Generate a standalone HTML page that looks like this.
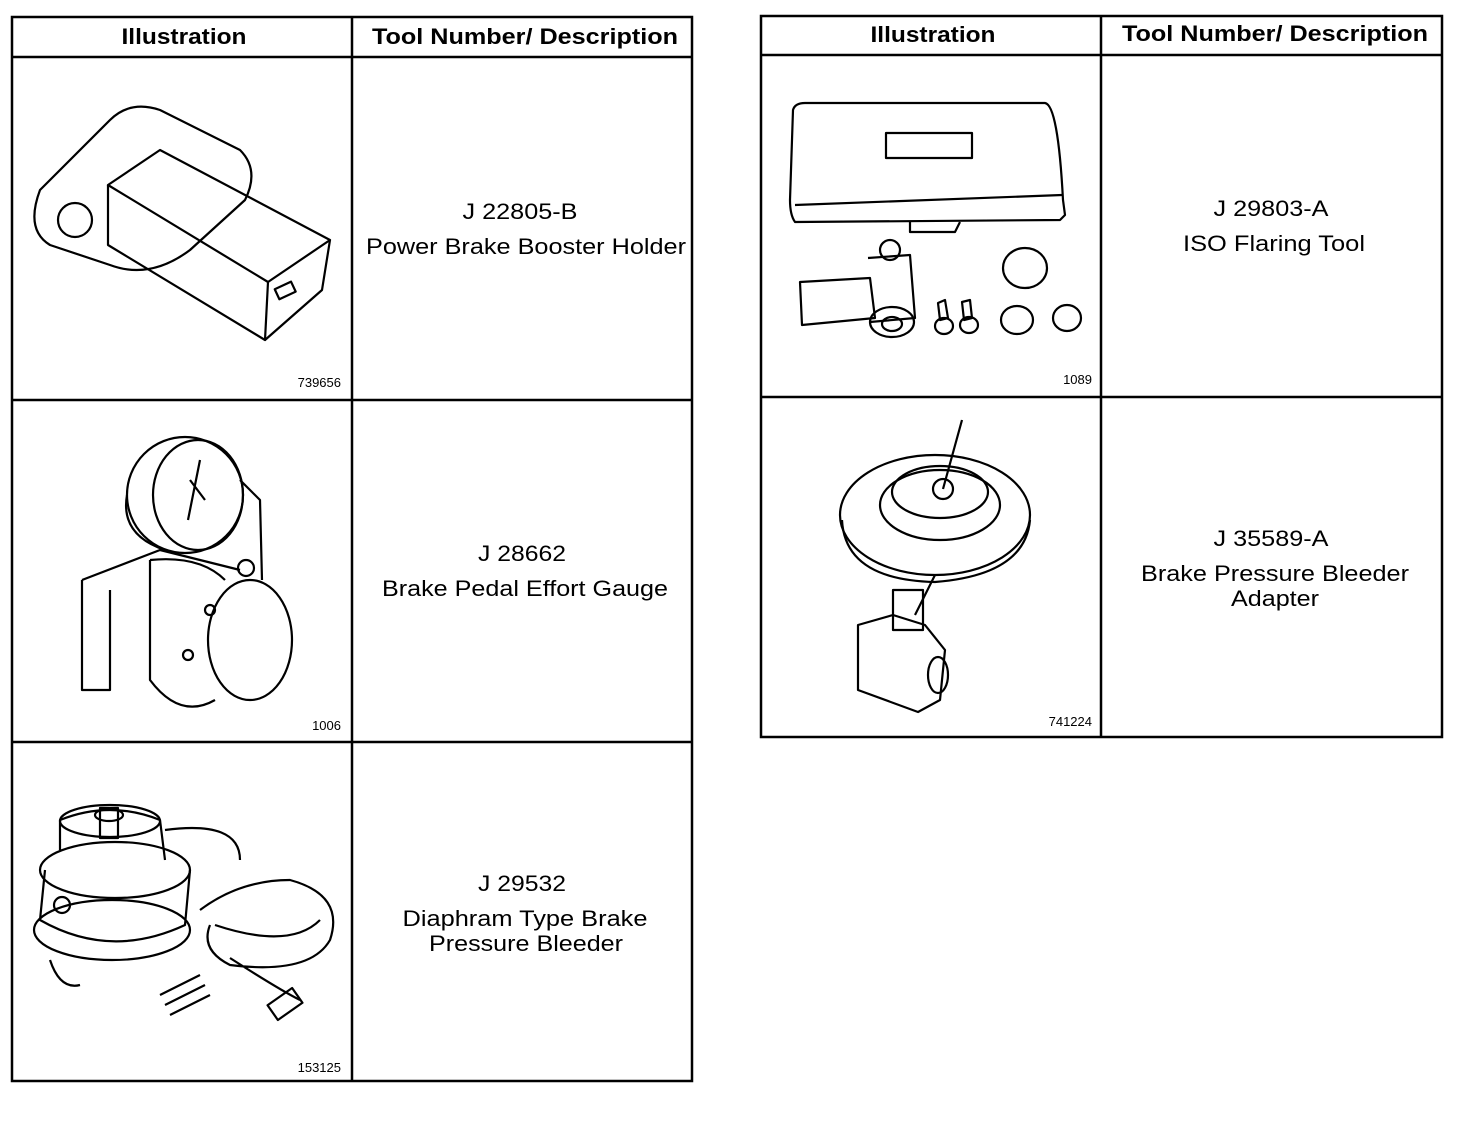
<!DOCTYPE html>
<html><head><meta charset="utf-8"><style>
html,body{margin:0;padding:0;background:#fff;}
svg{display:block;}
text{font-family:"Liberation Sans",Arial,sans-serif;fill:#000;}
.h{font-weight:bold;font-size:22px;}
.d{font-size:22px;}
.n{font-size:13px;}
</style></head><body>
<svg width="1472" height="1122" viewBox="0 0 1472 1122" xmlns="http://www.w3.org/2000/svg">
<g fill="none" stroke="#000" stroke-width="2.5">
<rect x="12" y="17" width="680" height="1064"/>
<line x1="352" y1="17" x2="352" y2="1081"/>
<line x1="12" y1="57" x2="692" y2="57"/>
<line x1="12" y1="400" x2="692" y2="400"/>
<line x1="12" y1="742" x2="692" y2="742"/>
<rect x="761" y="16" width="681" height="721"/>
<line x1="1101" y1="16" x2="1101" y2="737"/>
<line x1="761" y1="55" x2="1442" y2="55"/>
<line x1="761" y1="397" x2="1442" y2="397"/>
</g>
<g lengthAdjust="spacingAndGlyphs">
<text class="h" x="184" y="44" text-anchor="middle" textLength="125" lengthAdjust="spacingAndGlyphs">Illustration</text>
<text class="h" x="525" y="44" text-anchor="middle" textLength="306" lengthAdjust="spacingAndGlyphs">Tool Number/ Description</text>
<text class="h" x="933" y="42" text-anchor="middle" textLength="125" lengthAdjust="spacingAndGlyphs">Illustration</text>
<text class="h" x="1275" y="41" text-anchor="middle" textLength="306" lengthAdjust="spacingAndGlyphs">Tool Number/ Description</text>

<text class="d" x="520" y="219" text-anchor="middle" textLength="115" lengthAdjust="spacingAndGlyphs">J 22805-B</text>
<text class="d" x="526" y="254" text-anchor="middle" textLength="320" lengthAdjust="spacingAndGlyphs">Power Brake Booster Holder</text>
<text class="d" x="522" y="561" text-anchor="middle" textLength="88" lengthAdjust="spacingAndGlyphs">J 28662</text>
<text class="d" x="525" y="596" text-anchor="middle" textLength="286" lengthAdjust="spacingAndGlyphs">Brake Pedal Effort Gauge</text>
<text class="d" x="522" y="891" text-anchor="middle" textLength="88" lengthAdjust="spacingAndGlyphs">J 29532</text>
<text class="d" x="525" y="926" text-anchor="middle" textLength="245" lengthAdjust="spacingAndGlyphs">Diaphram Type Brake</text>
<text class="d" x="526" y="951" text-anchor="middle" textLength="194" lengthAdjust="spacingAndGlyphs">Pressure Bleeder</text>
<text class="d" x="1271" y="216" text-anchor="middle" textLength="115" lengthAdjust="spacingAndGlyphs">J 29803-A</text>
<text class="d" x="1274" y="251" text-anchor="middle" textLength="182" lengthAdjust="spacingAndGlyphs">ISO Flaring Tool</text>
<text class="d" x="1271" y="546" text-anchor="middle" textLength="115" lengthAdjust="spacingAndGlyphs">J 35589-A</text>
<text class="d" x="1275" y="581" text-anchor="middle" textLength="268" lengthAdjust="spacingAndGlyphs">Brake Pressure Bleeder</text>
<text class="d" x="1275" y="606" text-anchor="middle" textLength="88" lengthAdjust="spacingAndGlyphs">Adapter</text>
</g>
<text class="n" x="341" y="387" text-anchor="end">739656</text>
<text class="n" x="341" y="730" text-anchor="end">1006</text>
<text class="n" x="341" y="1072" text-anchor="end">153125</text>
<text class="n" x="1092" y="384" text-anchor="end">1089</text>
<text class="n" x="1092" y="726" text-anchor="end">741224</text>

<g fill="none" stroke="#000" stroke-width="2.2" stroke-linejoin="round">
<path d="M40 190 L110 120 Q130 100 160 110 L240 150 Q260 170 245 200 L190 250 Q150 280 110 265 L50 245 Q25 230 40 190Z"/>
<circle cx="75" cy="220" r="17"/>
<path d="M108 185 L160 150 L330 240 L268 282Z"/>
<path d="M108 185 L108 245 L265 340 L268 282"/>
<path d="M330 240 L322 290 L265 340"/>
<rect x="276" y="285" width="18" height="11" transform="rotate(-25 285 290)"/>
<ellipse cx="185" cy="495" rx="58" ry="58"/>
<ellipse cx="198" cy="495" rx="45" ry="55"/>
<path d="M127 495 Q120 535 165 550"/>
<path d="M200 460 L188 520 M190 480 L205 500"/>
<path d="M240 480 L260 500 L262 580 M82 580 L160 550 L240 570"/>
<path d="M82 580 L82 690 L110 690 L110 590"/>
<path d="M150 560 L150 680 Q180 720 215 700"/>
<ellipse cx="250" cy="640" rx="42" ry="60"/>
<path d="M150 560 Q200 555 225 580"/>
<circle cx="210" cy="610" r="5"/><circle cx="188" cy="655" r="5"/>
<circle cx="246" cy="568" r="8"/>
<ellipse cx="115" cy="870" rx="75" ry="28"/>
<path d="M45 870 L40 920 Q110 960 185 925 L190 870"/>
<ellipse cx="112" cy="930" rx="78" ry="30"/>
<path d="M60 850 L60 820 Q110 800 160 820 L165 860"/>
<ellipse cx="110" cy="821" rx="50" ry="16"/>
<rect x="100" y="808" width="18" height="30"/>
<ellipse cx="109" cy="815" rx="14" ry="6"/>
<circle cx="62" cy="905" r="8"/>
<path d="M165 830 Q240 820 240 860 M200 910 Q240 880 290 880 Q345 895 330 940 Q310 975 230 965 Q200 950 210 925 M215 925 Q290 950 320 920 M230 958 Q280 990 300 1000"/>
<rect x="270" y="995" width="30" height="18" transform="rotate(-35 285 1004)"/>
<path d="M160 995 L200 975 M165 1005 L205 985 M170 1015 L210 995"/>
<path d="M50 960 Q60 990 80 985"/>
<path d="M793 110 Q795 103 805 103 L1045 103 Q1058 105 1063 200 L1065 215 L1060 220 L795 222 Q790 215 790 200Z"/>
<path d="M795 205 L1062 195"/>
<rect x="886" y="133" width="86" height="25"/>
<path d="M910 222 L910 232 L955 232 L960 222"/>
<path d="M800 282 L870 278 L875 318 L802 325Z"/>
<path d="M868 258 L910 255 L915 318 L870 322"/>
<circle cx="890" cy="250" r="10"/>
<ellipse cx="892" cy="322" rx="22" ry="15"/>
<ellipse cx="892" cy="324" rx="10" ry="7"/>
<path d="M938 303 L945 300 L948 318 L940 320Z M962 302 L970 300 L972 318 L964 320Z"/>
<ellipse cx="944" cy="326" rx="9" ry="8"/><ellipse cx="969" cy="325" rx="9" ry="8"/>
<ellipse cx="1025" cy="268" rx="22" ry="20"/>
<ellipse cx="1017" cy="320" rx="16" ry="14"/>
<ellipse cx="1067" cy="318" rx="14" ry="13"/>
<ellipse cx="935" cy="515" rx="95" ry="60"/>
<ellipse cx="940" cy="505" rx="60" ry="35"/>
<ellipse cx="940" cy="492" rx="48" ry="26"/>
<circle cx="943" cy="489" r="10"/>
<path d="M943 489 L962 420"/>
<path d="M842 520 Q845 580 935 582 Q1025 575 1030 520"/>
<path d="M935 575 L915 615"/>
<rect x="893" y="590" width="30" height="40"/>
<path d="M858 625 L893 615 L925 625 L945 650 L940 700 L918 712 L858 690Z"/>
<ellipse cx="938" cy="675" rx="10" ry="18"/>
</g>
</svg>
</body></html>
